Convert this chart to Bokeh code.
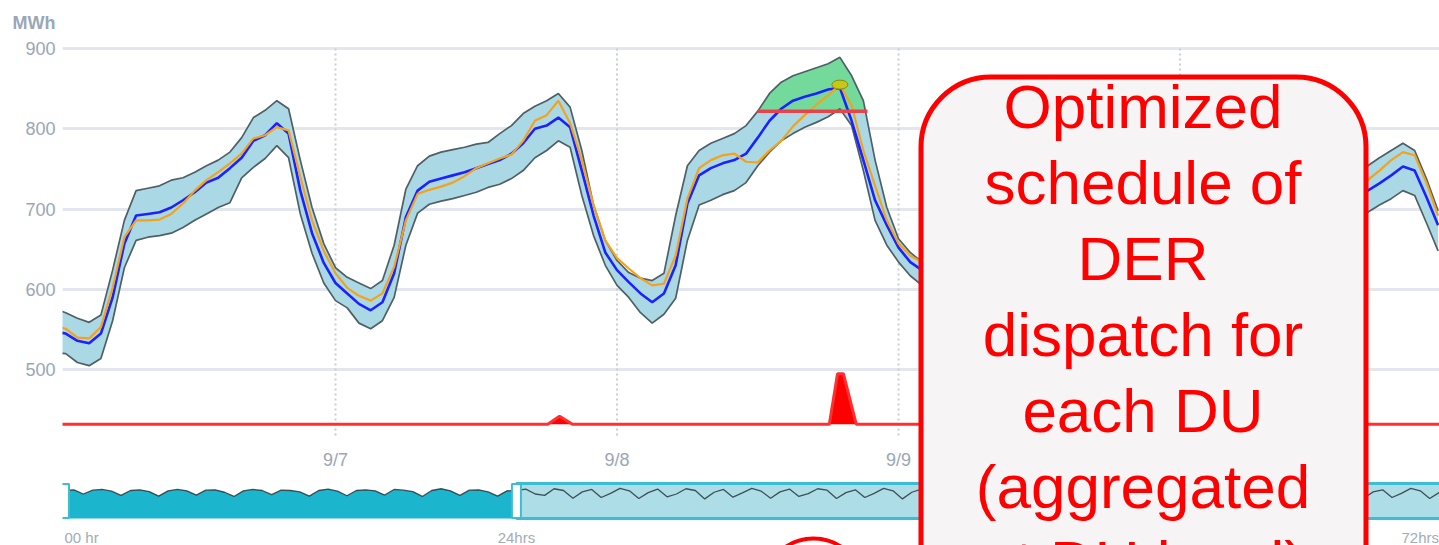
import numpy as np
from bokeh.plotting import figure
from bokeh.models import Range1d, FixedTicker, BoxAnnotation, Label
from bokeh.core.properties import value
from bokeh.embed import file_html
from bokeh.resources import INLINE

# ---------------- data ----------------
# hours since 9/6 00:00 ; the span 75..110 is hidden under the callout
hours = list(range(0, 75)) + list(range(111, 119))
band_upper = [
    576, 571, 564, 559, 568, 624, 686, 723, 726, 729,
    736, 739, 746, 754, 761, 771, 789, 814, 823, 835,
    825, 761, 702, 657, 627, 615, 608, 601, 611, 655,
    725, 754, 766, 771, 774, 777, 781, 783, 794, 804,
    819, 828, 835, 844, 827, 773, 705, 661, 636, 621,
    614, 611, 620, 692, 754, 773, 782, 788, 794, 804,
    822, 844, 858, 866, 871, 876, 881, 889, 866, 835,
    761, 702, 663, 646, 634,
    742, 754, 764, 773, 782, 773, 738, 698]
band_lower = [
    521, 520, 509, 505, 514, 561, 627, 661, 665, 667,
    670, 677, 686, 694, 702, 708, 739, 752, 763, 779,
    764, 694, 645, 608, 586, 577, 558, 551, 561, 590,
    655, 695, 706, 710, 713, 717, 721, 727, 731, 738,
    748, 764, 773, 785, 777, 717, 667, 630, 605, 590,
    571, 558, 569, 589, 661, 705, 711, 718, 723, 733,
    754, 771, 785, 794, 802, 808, 815, 825, 804, 748,
    686, 655, 634, 617, 605,
    686, 696, 705, 713, 723, 717, 683, 648]
forecast_mean = [
    548, 545, 536, 533, 545, 590, 657, 692, 694, 696,
    702, 711, 721, 733, 739, 751, 764, 785, 792, 807,
    794, 723, 670, 633, 608, 595, 582, 574, 584, 620,
    690, 723, 734, 738, 742, 746, 751, 756, 761, 769,
    782, 800, 804, 814, 802, 748, 692, 646, 624, 609,
    595, 584, 595, 630, 707, 742, 751, 757, 761, 769,
    789, 810, 825, 835, 840, 844, 849, 851, 810, 761,
    711, 680, 652, 634, 624,
    711, 723, 732, 742, 753, 748, 715, 680]
forecast_alt = [
    554, 551, 540, 539, 553, 602, 665, 686, 686, 687,
    694, 707, 723, 736, 746, 757, 769, 788, 792, 802,
    798, 740, 686, 648, 620, 602, 592, 586, 595, 628,
    686, 719, 724, 728, 733, 741, 751, 757, 763, 768,
    785, 810, 817, 835, 807, 761, 705, 661, 639, 626,
    614, 605, 607, 642, 713, 751, 761, 767, 769, 759,
    758, 773, 785, 803, 817, 830, 842, 855, 829, 773,
    729, 686, 657, 642, 634,
    726, 736, 748, 761, 771, 767, 733, 692]

peak_cap = 822            # MWh, capped peak
cap_start, cap_end = 60, 69.35
peak_marker_hour = 67

dispatch_hours = [0, 42.1, 43.1, 44.2, 66.1, 66.8, 67.3, 68.4, 118.2]
dispatch_mwh = [432, 432, 442, 432, 432, 495, 495, 432, 432]
dispatch_base = 432

y_ticks = [500, 600, 700, 800, 900]
day_ticks = [24, 48, 72, 96]
day_labels = ["9/7", "9/8", "9/9", "9/10"]

nav_ticks = [0, 24, 72]
nav_labels = ["00 hr", "24hrs", "72hrs"]
nav_handles = [0, 24]
nav_level = [
    80, 82, 70, 81, 83, 78, 66, 80, 82, 77, 64, 79,
    83, 79, 67, 81, 82, 75, 63, 79, 83, 80, 68, 81,
    80, 76, 64, 80, 84, 78, 65, 80, 82, 79, 67, 83,
    81, 77, 63, 80, 85, 79, 66, 81, 82, 76, 64, 79,
    80, 84, 70, 66, 85, 80, 58, 76, 83, 60, 72, 86,
    79, 57, 74, 84, 62, 70, 85, 80, 56, 75, 83, 61,
    73, 86, 78, 58, 76, 84, 63, 71, 85, 81, 57, 74,
    82, 60, 72, 86, 79, 56, 75, 84, 62, 70, 85, 80,
    58, 76, 83, 61, 73, 86, 78, 57, 74, 84, 63, 71,
    85, 81, 56, 75, 82, 60, 72, 86, 79, 58, 76, 84,
    62, 70, 85, 80, 57, 74, 83, 61, 73, 86, 78, 56,
    75, 84, 63, 71, 85, 81, 58, 76, 82, 60, 72, 86,
    79, 57, 74, 84]

callout_lines = ["Optimized", "schedule of", "DER", "dispatch for",
                 "each DU", "(aggregated", "at DU level)"]

# ---------------- layout calibration (picture pixels) ----------------
X24_PX, PX_PER_H = 335.0, 11.73
Y700_PX, PX_PER_MWH = 208.6, 0.803
NAV0_PX, NAV_PX_PER_H = 64.0, 18.83
NAV_BOTTOM_PX, NAV_PX_PER_UNIT = 518.0, 0.35
W, H = 1439, 545
FRAME_LEFT, FRAME_TOP = 62, 40


def hx(px):
    return 24 + (px - X24_PX) / PX_PER_H


def vy(py):
    return 700 - (py - Y700_PX) / PX_PER_MWH


def nx(px):
    return (px - NAV0_PX) / NAV_PX_PER_H


def ny(py):
    return (NAV_BOTTOM_PX - py) / NAV_PX_PER_UNIT


FONT = "Liberation Sans"
AXIS_GREY = "#9aa6b8"

p = figure(width=W, height=H,
           x_range=Range1d(hx(FRAME_LEFT), hx(W)), y_range=Range1d(vy(H), vy(FRAME_TOP)),
           output_backend="svg", toolbar_location=None,
           x_axis_location=None, y_axis_location="left",
           min_border_left=FRAME_LEFT, min_border_right=0,
           min_border_top=FRAME_TOP, min_border_bottom=0)
p.extra_x_ranges = {"nav": Range1d(nx(FRAME_LEFT), nx(W))}
p.extra_y_ranges = {"nav": Range1d(ny(H), ny(FRAME_TOP))}
p.outline_line_color = None
p.background_fill_color = "white"
p.border_fill_color = "white"

p.title.text = "MWh"
p.title.align = "left"
p.title.offset = -50
p.title.standoff = 16
p.title.text_font = FONT
p.title.text_font_size = "18px"
p.title.text_font_style = "bold"
p.title.text_color = AXIS_GREY

ticker = FixedTicker(ticks=y_ticks)
p.yaxis.ticker = ticker
p.yaxis.axis_line_color = None
p.yaxis.major_tick_line_color = None
p.yaxis.minor_tick_line_color = None
p.yaxis.major_tick_out = 0
p.yaxis.major_tick_in = 0
p.yaxis.minor_tick_out = 0
p.yaxis.minor_tick_in = 0
p.yaxis.major_label_standoff = 7
p.yaxis.major_label_text_font = FONT
p.yaxis.major_label_text_font_size = "18px"
p.yaxis.major_label_text_color = AXIS_GREY
p.ygrid.ticker = ticker
p.ygrid.grid_line_color = "#e3e7ed"
p.ygrid.grid_line_width = 3
p.xgrid.visible = False

# day separators (dotted)
p.segment(x0=day_ticks, x1=day_ticks, y0=vy(435), y1=vy(46),
          line_color="#c9ced6", line_width=2, line_dash="2 3")

# split the series into visible runs
h_arr = np.asarray(hours, float)
breaks = np.where(np.diff(h_arr) > 1)[0] + 1
runs = np.split(np.arange(len(h_arr)), breaks)
up = np.asarray(band_upper, float)
lo = np.asarray(band_lower, float)
mu = np.asarray(forecast_mean, float)
alt = np.asarray(forecast_alt, float)

for ix in runs:
    p.varea(x=h_arr[ix], y1=lo[ix], y2=up[ix], fill_color="#aad9e5")

# green region above the capped peak
m = (h_arr >= cap_start) & (h_arr <= cap_end)
gx = h_arr[m]
gy = np.maximum(up[m], peak_cap)
k = int(np.where(h_arr == gx[-1])[0][0])
x_cross = h_arr[k] + (up[k] - peak_cap) / (up[k] - up[k + 1]) * (h_arr[k + 1] - h_arr[k])
gx = np.append(gx, x_cross)
gy = np.append(gy, peak_cap)
p.varea(x=gx, y1=peak_cap, y2=gy, fill_color="#74da9c")

for ix in runs:
    p.line(h_arr[ix], up[ix], line_color="#4f5f66", line_width=1.7)
    p.line(h_arr[ix], lo[ix], line_color="#4f5f66", line_width=1.7)
    p.line(h_arr[ix], mu[ix], line_color="#1c22ff", line_width=2.6)
    p.line(h_arr[ix], alt[ix], line_color="#f4a21c", line_width=2.2)

p.line([cap_start, cap_end], [peak_cap, peak_cap], line_color="#e8424c", line_width=3.5)
p.ellipse(x=[peak_marker_hour], y=[alt[hours.index(peak_marker_hour)]], width=16, height=9,
          width_units="screen", height_units="screen",
          fill_color="#c8c61a", line_color="#8c8a00", line_width=1)

# DER dispatch series
p.varea(x=dispatch_hours, y1=dispatch_base, y2=dispatch_mwh, fill_color="#ff0000")
p.line(dispatch_hours, dispatch_mwh, line_color="#ff3030", line_width=3)

# day labels (the 9/10 label sits under the callout)
callout_left_h = hx(920.5)
vis = [i for i, t in enumerate(day_ticks) if t < callout_left_h]
p.text(x=[day_ticks[i] for i in vis], y=vy(459), text=[day_labels[i] for i in vis],
       text_font=value(FONT), text_font_size="18px", text_color=AXIS_GREY,
       text_align="center", text_baseline="middle")

# ---------------- navigator ----------------
nh = np.arange(len(nav_level)) * 0.5
nl = np.asarray(nav_level, float)
sel = nh <= nav_handles[1]
p.quad(left=nav_handles[1], right=nx(1500), bottom=0, top=100,
       fill_color="#addee7", line_color="#3dbdd4", line_width=3,
       x_range_name="nav", y_range_name="nav")
p.varea(x=nh[sel], y1=0, y2=nl[sel], fill_color="#1bb5cd",
        x_range_name="nav", y_range_name="nav")
p.line(nh, nl, line_color="#2a363a", line_width=1.3, line_alpha=0.85,
       x_range_name="nav", y_range_name="nav")
p.rect(x=nav_handles, y=50, width=9, height=34, width_units="screen", height_units="screen",
       fill_color="white", line_color="#3dbdd4", line_width=2,
       x_range_name="nav", y_range_name="nav")
p.text(x=nav_ticks, y=ny(537), text=nav_labels,
       text_font=value(FONT), text_font_size="15px", text_color="#a3abb8",
       text_align=["left", "center", "center"], text_baseline="middle",
       x_range_name="nav", y_range_name="nav")

# red ring peeking in at the bottom
p.circle(x=[hx(813)], y=[vy(588)], radius=50, radius_units="screen",
         fill_color=None, line_color="#ff0000", line_width=4)

# ---------------- callout ----------------
box = BoxAnnotation(left=hx(920.5), right=hx(1365.5), top=vy(76.5), bottom=vy(640),
                    fill_color="#f6f4f5", fill_alpha=1.0,
                    line_color="#ff0000", line_alpha=1.0, line_width=5, border_radius=70)
p.add_layout(box)
for i, txt in enumerate(callout_lines):
    p.add_layout(Label(x=hx(1142.5), y=vy(106 + 76.0 * i), text=txt,
                       text_font=FONT, text_font_size="62px", text_color="#ff0000",
                       text_align="center", text_baseline="alphabetic"))

open("out.html", "w").write(file_html(p, INLINE))
